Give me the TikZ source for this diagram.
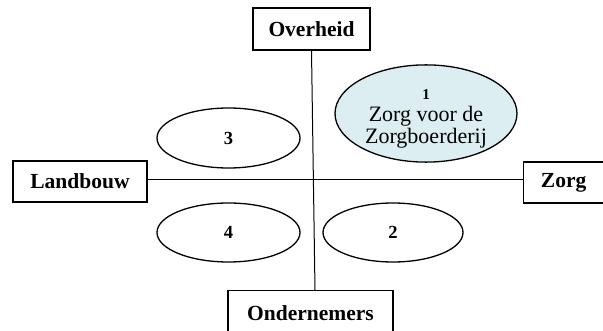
\documentclass[tikz,border=0pt]{standalone}
\usepackage{fontspec}
\setmainfont{Liberation Serif}
\usetikzlibrary{shapes.geometric,calc}
\definecolor{lightblue}{RGB}{220,238,242}
\begin{document}
\begin{tikzpicture}[x=1pt,y=-1pt,
  box/.style={draw,line width=1.3pt,inner sep=0pt,font=\fontsize{21.5}{25}\selectfont\bfseries},
  oval/.style={draw,ellipse,line width=1.3pt,inner sep=0pt,font=\fontsize{18.5}{20}\selectfont\bfseries},
  axis/.style={line width=1pt}]
\useasboundingbox (0,0) rectangle (603,331);
\node[box,minimum width=117pt,minimum height=42pt] (ov) at (311.5,29) {Overheid};
\node[box,minimum width=134pt,minimum height=41pt] (lb) at (80,181.5) {Landbouw};
\node[box,minimum width=80pt,minimum height=41pt,anchor=west] (zg) at (523,182.5) {Zorg};
\node[box,minimum width=165pt,minimum height=44pt,anchor=north] (on) at (310.5,290) {Ondernemers};
\node[oval,minimum width=143pt,minimum height=60pt] (e3) at (228.5,138) {3};
\node[oval,minimum width=143pt,minimum height=59pt] (e4) at (228.5,232.5) {4};
\node[oval,minimum width=140pt,minimum height=59pt] (e2) at (393,232.5) {2};
\node[oval,fill=lightblue,minimum width=182pt,minimum height=93pt,font=\fontsize{22}{22}\selectfont,align=center] (e1) at (426,113.5) {{\fontsize{15}{22}\selectfont\bfseries\rule{0pt}{20pt}1}\\Zorg voor de\\Zorgboerderij};
\draw[axis] (ov.south) -- ($(on.north)+(4.5,0)$);
\draw[axis] ([yshift=2pt]lb.east) -- ([yshift=3pt]zg.west);
\end{tikzpicture}
\end{document}
